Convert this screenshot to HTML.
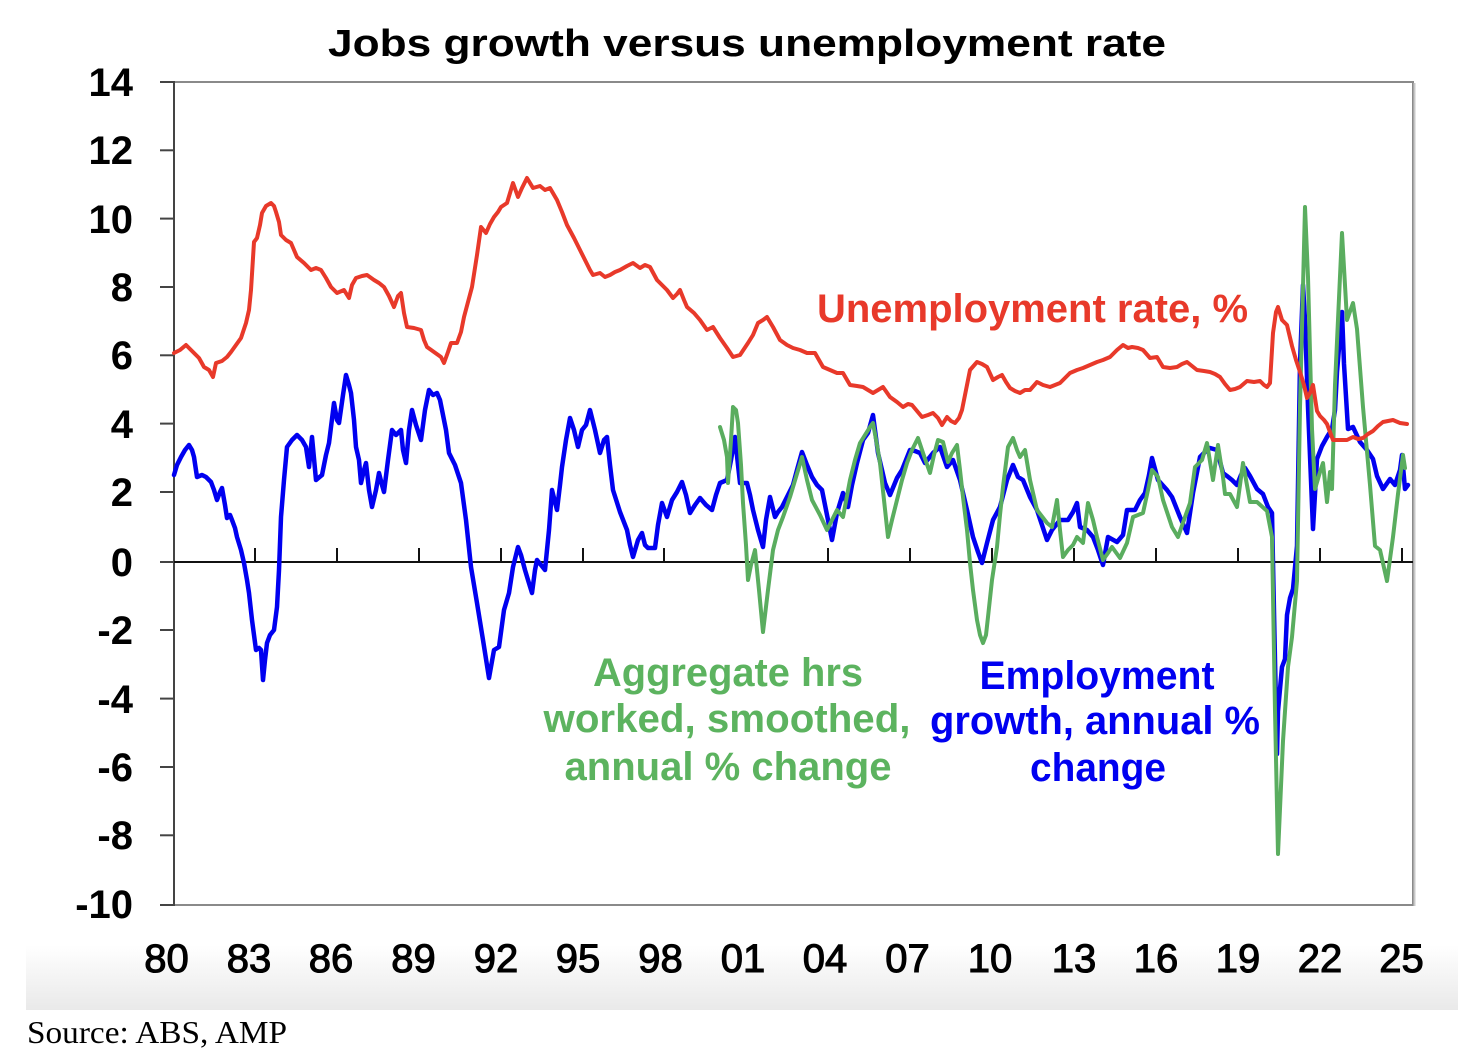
<!DOCTYPE html>
<html><head><meta charset="utf-8"><style>
html,body{margin:0;padding:0;background:#fff;}
svg{display:block;}
</style></head><body>
<svg width="1458" height="1064" viewBox="0 0 1458 1064" xmlns="http://www.w3.org/2000/svg">
<defs>
<linearGradient id="band" x1="0" y1="0" x2="0" y2="1">
<stop offset="0" stop-color="#ffffff"/>
<stop offset="1" stop-color="#e9e9e9"/>
</linearGradient>
</defs>
<rect x="0" y="0" width="1458" height="1064" fill="#fff"/>
<rect x="26" y="945" width="1432" height="65" fill="url(#band)"/>

<!-- title -->
<text x="747" y="56" text-anchor="middle" font-family="Liberation Sans, Arial, sans-serif" font-weight="bold" font-size="38" textLength="838" lengthAdjust="spacingAndGlyphs" fill="#000">Jobs growth versus unemployment rate</text>

<!-- plot frame -->
<rect x="174" y="82" width="1239" height="823" fill="#fff" stroke="#8a8a8a" stroke-width="2"/>
<line x1="1414.5" y1="83" x2="1414.5" y2="906" stroke="#c8c8c8" stroke-width="2"/>
<line x1="174" y1="81" x2="174" y2="906" stroke="#444" stroke-width="2"/>

<!-- y ticks -->
<g stroke="#444" stroke-width="2">
<line x1="160" y1="82" x2="174" y2="82"/>
<line x1="160" y1="150.3" x2="174" y2="150.3"/>
<line x1="160" y1="218.6" x2="174" y2="218.6"/>
<line x1="160" y1="287" x2="174" y2="287"/>
<line x1="160" y1="355.3" x2="174" y2="355.3"/>
<line x1="160" y1="423.6" x2="174" y2="423.6"/>
<line x1="160" y1="492" x2="174" y2="492"/>
<line x1="160" y1="562" x2="174" y2="562"/>
<line x1="160" y1="630" x2="174" y2="630"/>
<line x1="160" y1="698.6" x2="174" y2="698.6"/>
<line x1="160" y1="767" x2="174" y2="767"/>
<line x1="160" y1="835.3" x2="174" y2="835.3"/>
<line x1="160" y1="905" x2="174" y2="905"/>
</g>

<!-- y labels -->
<g font-family="Liberation Sans, Arial, sans-serif" font-weight="bold" font-size="40" text-anchor="end" fill="#000">
<text x="133" y="96">14</text>
<text x="133" y="164">12</text>
<text x="133" y="233">10</text>
<text x="133" y="301">8</text>
<text x="133" y="369">6</text>
<text x="133" y="438">4</text>
<text x="133" y="506">2</text>
<text x="133" y="576">0</text>
<text x="133" y="644">-2</text>
<text x="133" y="713">-4</text>
<text x="133" y="781">-6</text>
<text x="133" y="849">-8</text>
<text x="133" y="918">-10</text>
</g>

<!-- zero line and x ticks -->
<line x1="174" y1="562" x2="1413" y2="562" stroke="#111" stroke-width="2"/>
<g stroke="#111" stroke-width="2">
<line x1="255" y1="548" x2="255" y2="562"/>
<line x1="337" y1="548" x2="337" y2="562"/>
<line x1="419" y1="548" x2="419" y2="562"/>
<line x1="501" y1="548" x2="501" y2="562"/>
<line x1="583" y1="548" x2="583" y2="562"/>
<line x1="664" y1="548" x2="664" y2="562"/>
<line x1="746" y1="548" x2="746" y2="562"/>
<line x1="828" y1="548" x2="828" y2="562"/>
<line x1="910" y1="548" x2="910" y2="562"/>
<line x1="992" y1="548" x2="992" y2="562"/>
<line x1="1074" y1="548" x2="1074" y2="562"/>
<line x1="1156" y1="548" x2="1156" y2="562"/>
<line x1="1238" y1="548" x2="1238" y2="562"/>
<line x1="1320" y1="548" x2="1320" y2="562"/>
<line x1="1402" y1="548" x2="1402" y2="562"/>
</g>

<!-- x labels -->
<g font-family="Liberation Sans, Arial, sans-serif" font-size="40" text-anchor="middle" fill="#000" stroke="#000" stroke-width="1.1">
<text x="166.5" y="972">80</text>
<text x="249" y="972">83</text>
<text x="331" y="972">86</text>
<text x="413.5" y="972">89</text>
<text x="496" y="972">92</text>
<text x="578" y="972">95</text>
<text x="660.5" y="972">98</text>
<text x="743" y="972">01</text>
<text x="825" y="972">04</text>
<text x="907.5" y="972">07</text>
<text x="990" y="972">10</text>
<text x="1074" y="972">13</text>
<text x="1156" y="972">16</text>
<text x="1238" y="972">19</text>
<text x="1320" y="972">22</text>
<text x="1401.5" y="972">25</text>
</g>

<!-- blue: employment growth -->
<polyline fill="none" stroke="#0000f0" stroke-width="4.5" stroke-linejoin="round" stroke-linecap="round" points="174,475 177,465 181,457 185,450 189,445 192,450 194,457 197,477 202,475 206,477 211,482 214,490 217,500 220,492 222,488 225,505 227,518 230,515 232,520 235,528 237,537 241,550 244,563 247,580 249,593 252,620 256,650 259,648 261,650 263,680 265,660 267,643 270,635 274,630 277,607 279,570 281,517 284,480 287,447 292,440 297,435 302,440 306,447 309,467 312,437 316,480 322,475 326,455 329,443 334,403 337,420 339,423 343,395 346,375 349,385 351,393 354,420 356,447 359,460 361,483 364,470 366,463 369,490 372,507 376,490 379,473 382,485 384,492 388,460 392,430 396,435 401,430 403,450 406,463 409,430 412,410 416,425 421,440 425,410 429,390 433,395 437,393 440,400 442,410 446,430 449,453 455,465 461,483 466,520 471,567 477,603 483,640 489,678 494,650 499,647 504,610 509,593 513,567 518,547 521,555 525,570 528,580 532,593 535,570 537,560 541,565 545,570 549,530 552,490 557,510 560,485 562,467 566,440 570,418 574,430 578,447 582,430 586,425 590,410 595,430 600,453 604,440 607,437 610,465 613,490 620,512 627,530 630,545 633,557 638,540 642,533 645,545 648,548 655,548 658,525 662,503 667,517 672,500 677,492 682,482 686,495 690,513 695,505 700,498 706,505 712,510 716,495 720,483 727,480 731,460 735,437 738,465 740,483 747,483 750,495 753,510 758,530 763,547 766,520 770,497 775,517 778,512 782,507 788,495 793,485 797,470 802,452 807,465 812,477 817,485 822,490 827,515 832,540 837,513 843,493 848,507 852,485 857,463 863,440 868,433 873,415 878,453 882,470 885,483 890,495 897,478 902,470 906,460 910,450 915,451 920,453 925,463 929,458 933,453 940,447 947,467 953,460 960,480 967,510 973,537 978,552 982,563 987,543 993,520 1000,507 1007,480 1013,465 1018,477 1023,480 1030,497 1037,510 1042,525 1047,540 1052,530 1060,520 1068,520 1073,512 1077,503 1080,527 1087,530 1093,537 1098,550 1103,565 1108,537 1117,542 1123,535 1127,510 1135,510 1140,500 1145,493 1149,475 1152,458 1158,480 1167,490 1172,497 1180,517 1187,533 1193,493 1200,457 1205,452 1210,448 1217,450 1223,473 1227,476 1232,480 1237,485 1241,475 1245,468 1250,476 1257,489 1263,494 1268,507 1272,513 1273,563 1275,660 1277,754 1278,711 1282,667 1285,659 1287,615 1290,598 1293,589 1297,546 1300,364 1303,285 1305,320 1308,407 1313,529 1317,459 1322,446 1327,437 1332,429 1335,410 1337,372 1342,312 1344,364 1348,429 1353,427 1360,442 1367,450 1373,459 1377,476 1383,489 1390,479 1395,485 1400,470 1402,455 1405,489 1408,485"/>

<!-- green: aggregate hours -->
<polyline fill="none" stroke="#5aad5f" stroke-width="4" stroke-linejoin="round" stroke-linecap="round" points="720,427 724,440 727,457 728,483 731,440 733,407 736,410 738,423 741,465 743,503 746,545 748,580 751,565 755,550 759,590 763,632 768,590 773,550 778,530 783,517 790,497 796,477 802,457 807,480 812,500 820,515 827,530 832,520 837,510 843,517 850,480 855,460 860,443 865,435 870,427 873,423 877,445 880,463 884,500 888,537 892,520 897,500 902,480 907,463 912,450 918,438 923,453 930,473 934,455 938,440 943,442 948,462 952,453 957,445 960,470 963,497 967,530 970,563 973,590 977,620 980,635 983,643 986,635 988,617 992,580 997,547 1000,515 1003,487 1008,447 1013,438 1017,450 1020,457 1025,450 1030,480 1037,510 1047,523 1052,527 1057,500 1060,530 1063,557 1068,550 1073,545 1077,537 1083,543 1088,503 1093,520 1097,537 1103,560 1108,553 1112,547 1120,558 1127,543 1133,517 1143,513 1148,490 1152,470 1158,477 1163,500 1172,527 1178,537 1185,517 1190,503 1195,467 1202,460 1207,443 1213,480 1218,445 1223,477 1225,494 1230,494 1237,507 1243,463 1250,502 1257,502 1267,511 1272,537 1275,711 1278,854 1283,741 1288,667 1292,637 1297,581 1300,407 1305,207 1308,277 1312,429 1315,489 1320,472 1323,463 1327,502 1330,472 1332,489 1335,385 1342,233 1347,320 1353,303 1357,329 1363,407 1370,485 1375,546 1380,550 1387,581 1393,537 1398,494 1403,455 1405,468"/>

<!-- red: unemployment rate -->
<polyline fill="none" stroke="#e8392a" stroke-width="4" stroke-linejoin="round" stroke-linecap="round" points="174,353 180,350 186,345 190,349 194,353 199,358 204,367 209,370 213,377 216,363 222,361 227,357 231,352 236,345 241,338 246,323 249,310 251,290 254,242 257,238 260,225 262,213 266,206 271,203 274,206 276,212 279,222 281,235 286,240 291,243 294,250 297,257 304,263 311,270 316,268 321,270 326,278 331,287 337,293 344,290 349,298 352,285 356,278 362,276 367,275 374,280 379,283 384,287 389,296 394,307 398,296 401,293 404,313 407,327 414,328 421,330 424,340 427,347 434,352 441,357 444,363 448,352 451,343 457,343 461,332 464,317 468,302 472,287 477,255 481,227 486,233 490,224 494,217 498,212 501,207 507,203 513,183 518,197 522,188 527,178 533,188 540,186 545,190 550,188 557,200 562,212 567,225 574,238 580,250 585,260 590,270 593,275 600,273 605,277 610,275 615,272 620,270 627,266 633,263 640,268 645,265 650,267 657,280 662,285 667,290 673,298 677,294 680,290 684,300 687,307 694,313 700,320 707,330 713,327 720,338 727,348 733,357 740,355 748,343 753,335 758,323 763,320 767,317 773,327 780,340 787,345 793,348 800,350 807,353 815,353 819,360 823,367 830,370 837,373 843,373 850,385 857,386 863,387 868,390 873,393 878,390 883,387 890,397 897,402 903,407 908,404 912,405 917,411 922,417 928,415 933,413 938,418 942,425 947,417 951,421 955,423 959,418 962,410 966,390 970,370 977,362 982,364 987,367 993,380 998,377 1002,375 1006,382 1010,388 1015,391 1020,393 1025,390 1030,390 1037,382 1043,385 1050,387 1055,385 1060,383 1065,378 1070,373 1077,370 1083,368 1090,365 1097,362 1103,360 1110,357 1117,350 1123,345 1128,348 1132,347 1138,348 1143,350 1150,358 1157,357 1163,367 1170,368 1177,367 1182,364 1187,362 1192,366 1197,370 1204,371 1210,372 1215,374 1220,377 1225,384 1230,390 1235,389 1240,387 1247,381 1254,382 1260,381 1264,385 1267,387 1270,383 1273,333 1276,312 1278,307 1282,320 1287,325 1292,346 1296,360 1300,372 1304,385 1307,398 1310,393 1313,385 1317,411 1320,416 1324,420 1327,424 1330,432 1333,440 1340,440 1347,440 1353,437 1358,439 1363,438 1368,434 1373,431 1378,426 1383,422 1388,421 1393,420 1400,423 1407,424"/>

<!-- annotations -->
<g font-family="Liberation Sans, Arial, sans-serif" font-weight="bold" font-size="40">
<text x="817" y="322" fill="#e8392a" textLength="431" lengthAdjust="spacingAndGlyphs">Unemployment rate, %</text>
<g fill="#5cb35f" text-anchor="middle">
<text x="728" y="686" textLength="270" lengthAdjust="spacingAndGlyphs">Aggregate hrs</text>
<text x="727" y="732" textLength="367" lengthAdjust="spacingAndGlyphs">worked, smoothed,</text>
<text x="728" y="780" textLength="327" lengthAdjust="spacingAndGlyphs">annual % change</text>
</g>
<g fill="#0000f0" text-anchor="middle">
<text x="1097" y="689" textLength="235" lengthAdjust="spacingAndGlyphs">Employment</text>
<text x="1095" y="734" textLength="330" lengthAdjust="spacingAndGlyphs">growth, annual %</text>
<text x="1098" y="781" textLength="136" lengthAdjust="spacingAndGlyphs">change</text>
</g>
</g>

<!-- source -->
<text x="27" y="1043" font-family="Liberation Serif, Times New Roman, serif" font-size="32" textLength="260" lengthAdjust="spacingAndGlyphs" fill="#000">Source: ABS, AMP</text>
</svg>
</body></html>
